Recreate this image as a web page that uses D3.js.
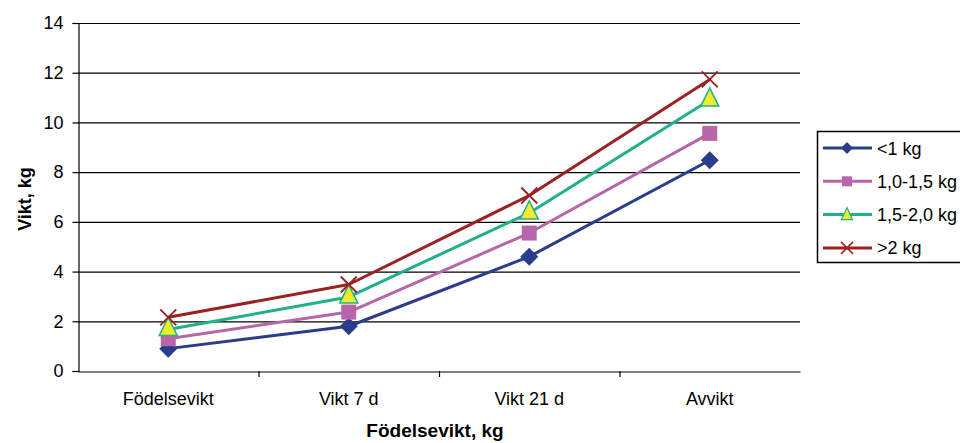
<!DOCTYPE html>
<html><head><meta charset="utf-8">
<script src="https://cdn.jsdelivr.net/npm/d3@7"></script>
<style>body{margin:0;background:#fff}svg{display:block}text{font-family:"Liberation Sans",Arial,sans-serif}</style>
</head><body><svg id="c" width="960" height="443"></svg>
<script>
const categories = ["Födelsevikt", "Vikt 7 d", "Vikt 21 d", "Avvikt"];
const seriesNames = ["<1 kg", "1,0-1,5 kg", "1,5-2,0 kg", ">2 kg"];
const s1 = [0.9, 1.8, 4.6, 8.48];
const s2 = [1.3, 2.37, 5.55, 9.56];
const s3 = [1.67, 2.98, 6.36, 10.9];
const s4 = [2.16, 3.48, 7.06, 11.73];
const yTicks = [0, 2, 4, 6, 8, 10, 12, 14];
const colors = ["#2A3C8A", "#B866AA", "#20B08A", "#9B2222"];
const symbolsKind = ["diamond", "square", "triangle", "x"];
const allSeries = [s1, s2, s3, s4];

const svg = d3.select("#c");
const L = 78, R = 800, T = 23, B = 371;
const x = d3.scaleBand().domain(categories).range([L, R]);
const y = d3.scaleLinear().domain([0, 14]).range([B, T]);
const FF = "Liberation Sans, Arial, sans-serif";

// gridlines
svg.append("g").selectAll("line").data(yTicks.filter(d => d > 0)).join("line")
  .attr("x1", L).attr("x2", R).attr("y1", d => y(d) + 0.5).attr("y2", d => y(d) + 0.5)
  .attr("stroke", "#000").attr("stroke-width", 1.2);

// y axis
const ya = svg.append("g").attr("transform", `translate(${L + 0.5},0)`)
  .call(d3.axisLeft(y).tickValues(yTicks).tickSize(6).tickPadding(9));
ya.select(".domain").attr("stroke", "#000").attr("stroke-width", 1.2);
ya.selectAll(".tick line").attr("stroke", "#000").attr("stroke-width", 1.2);
ya.selectAll("text").attr("font-size", 18).attr("fill", "#000").attr("font-family", FF);

// x axis
const xa = svg.append("g").attr("transform", `translate(0,${B + 0.5})`)
  .call(d3.axisBottom(x).tickSize(0).tickPadding(21));
xa.select(".domain").attr("stroke", "#000").attr("stroke-width", 1.2);
xa.selectAll("text").attr("font-size", 18).attr("fill", "#000").attr("font-family", FF);
// category separator ticks
svg.append("g").selectAll("line").data(categories.slice(1)).join("line")
  .attr("x1", d => x(d) + 0.5).attr("x2", d => x(d) + 0.5)
  .attr("y1", B).attr("y2", B + 6).attr("stroke", "#000").attr("stroke-width", 1.2);

// axis titles
svg.append("text").attr("x", 435).attr("y", 437).attr("text-anchor", "middle")
  .attr("font-size", 19).attr("font-weight", "bold").text("Födelsevikt, kg");
svg.append("text").attr("transform", "translate(31,199) rotate(-90)").attr("text-anchor", "middle")
  .attr("font-size", 18).attr("font-weight", "bold").text("Vikt, kg");

function drawMarker(g, kind, color, cx, cy) {
  if (kind === "diamond") {
    g.append("path").attr("d", `M${cx},${cy-9}L${cx+9},${cy}L${cx},${cy+9}L${cx-9},${cy}Z`).attr("fill", color);
  } else if (kind === "square") {
    g.append("rect").attr("x", cx - 7.5).attr("y", cy - 7.5).attr("width", 15).attr("height", 15).attr("fill", color);
  } else if (kind === "triangle") {
    g.append("path").attr("d", `M${cx},${cy-12}L${cx+9},${cy+6}L${cx-9},${cy+6}Z`)
      .attr("fill", "#F2EA2E").attr("stroke", color).attr("stroke-width", 1.5).attr("stroke-linejoin", "miter");
  } else {
    g.append("path").attr("d", `M${cx-8},${cy-8}L${cx+8},${cy+8}M${cx+8},${cy-8}L${cx-8},${cy+8}`)
      .attr("stroke", color).attr("stroke-width", 1.8);
  }
}

const line = d3.line().x((d, i) => x(categories[i]) + x.bandwidth() / 2).y(d => y(d));
allSeries.forEach((s, k) => {
  const g = svg.append("g");
  g.append("path").datum(s).attr("d", line).attr("fill", "none")
    .attr("stroke", colors[k]).attr("stroke-width", 3).attr("stroke-linejoin", "round");
  s.forEach((v, i) => drawMarker(g, symbolsKind[k], colors[k], x(categories[i]) + x.bandwidth() / 2, y(v)));
});

// legend
const lg = svg.append("g");
lg.append("rect").attr("x", 817.5).attr("y", 131.5).attr("width", 160).attr("height", 131)
  .attr("fill", "#fff").attr("stroke", "#000").attr("stroke-width", 1.5);
seriesNames.forEach((n, k) => {
  const ly = 148 + k * 33.3;
  lg.append("line").attr("x1", 823).attr("x2", 872).attr("y1", ly).attr("y2", ly)
    .attr("stroke", colors[k]).attr("stroke-width", 3);
  const mg = lg.append("g");
  if (symbolsKind[k] === "diamond") mg.append("path").attr("d", `M847,${ly-6}L853,${ly}L847,${ly+6}L841,${ly}Z`).attr("fill", colors[k]);
  else if (symbolsKind[k] === "square") mg.append("rect").attr("x", 842).attr("y", ly - 5).attr("width", 10).attr("height", 10).attr("fill", colors[k]);
  else if (symbolsKind[k] === "triangle") mg.append("path").attr("d", `M847,${ly-7}L852.5,${ly+5}L841.5,${ly+5}Z`).attr("fill", "#F2EA2E").attr("stroke", colors[k]).attr("stroke-width", 1.2);
  else mg.append("path").attr("d", `M841,${ly-6}L853,${ly+6}M853,${ly-6}L841,${ly+6}`).attr("stroke", colors[k]).attr("stroke-width", 1.5);
  lg.append("text").attr("x", 877).attr("y", ly + 6.5).attr("font-size", 18).attr("font-family", FF).text(n);
});
</script></body></html>
